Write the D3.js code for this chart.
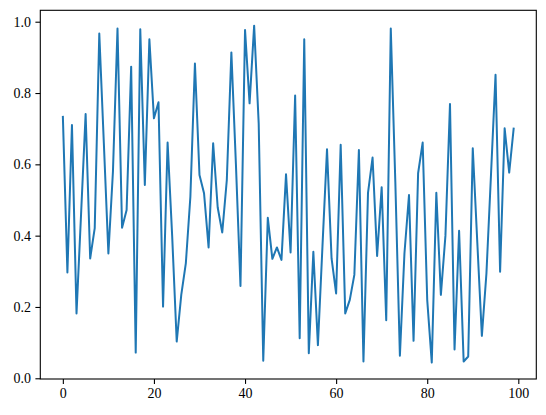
<!DOCTYPE html>
<html>
  <head>
    <meta charset="utf-8">
    <style>
    body { margin: 0; background: #fff; }
    .tick text { font-family: "Liberation Serif", serif; font-size: 14px; fill: #000; }
    .tick line { stroke: #000; stroke-width: 1.1; }
    .domain { display: none; }
    .frame { fill: none; stroke: #000; stroke-width: 1.1; }
    .line { fill: none; stroke: #1f77b4; stroke-width: 2; stroke-linejoin: round; }
    </style>
    <script src="https://cdn.jsdelivr.net/npm/d3@7"></script>
  </head>
  <body>
    <script type="text/javascript">
    // values, one per x = 0..99
    var values = [
      0.736, 0.297, 0.710, 0.182, 0.46, 0.741, 0.336, 0.421, 0.967, 0.66,
      0.350, 0.58, 0.981, 0.422, 0.472, 0.874, 0.072, 0.979, 0.542, 0.951,
      0.729, 0.774, 0.201, 0.661, 0.40, 0.103, 0.234, 0.322, 0.509, 0.883,
      0.570, 0.519, 0.367, 0.659, 0.479, 0.409, 0.556, 0.914, 0.60, 0.259,
      0.977, 0.771, 0.989, 0.715, 0.049, 0.450, 0.335, 0.367, 0.332, 0.572,
      0.353, 0.793, 0.112, 0.951, 0.070, 0.355, 0.093, 0.37, 0.642, 0.336,
      0.238, 0.655, 0.182, 0.22, 0.290, 0.64, 0.047, 0.520, 0.619, 0.343,
      0.536, 0.163, 0.981, 0.55, 0.063, 0.35, 0.514, 0.105, 0.575, 0.661,
      0.22, 0.044, 0.520, 0.234, 0.40, 0.769, 0.081, 0.414, 0.047, 0.061,
      0.645, 0.38, 0.119, 0.294, 0.57, 0.851, 0.299, 0.701, 0.577, 0.703
    ];
    var xTicks = [0, 20, 40, 60, 80, 100];
    var yTicks = [0.0, 0.2, 0.4, 0.6, 0.8, 1.0];
    var xLimits = [-4.95, 103.95];
    var yLimits = [-0.002, 1.032];

    var margin = {top: 10.3, right: 9.7, bottom: 36, left: 40.3},
        width = 546 - margin.left - margin.right,
        height = 415 - margin.top - margin.bottom;

    var svg = d3.select("body")
                .append("svg")
                .attr("width", 546)
                .attr("height", 415)
                .append("g")
                .attr("transform", "translate(" + margin.left + "," + margin.top + ")");

    var x = d3.scaleLinear().domain(xLimits).range([0, width]);
    var y = d3.scaleLinear().domain(yLimits).range([height, 0]);

    svg.append("g")
       .attr("transform", "translate(0," + height + ")")
       .call(d3.axisBottom(x).tickValues(xTicks).tickSize(4.9).tickPadding(4.5).tickFormat(d3.format("d")));

    svg.append("g")
       .call(d3.axisLeft(y).tickValues(yTicks).tickSize(4.9).tickPadding(4.5).tickFormat(d3.format(".1f")));

    var line = d3.line()
                 .x(function(d, i) { return x(i); })
                 .y(function(d) { return y(d); });

    svg.append("path")
       .datum(values)
       .attr("class", "line")
       .attr("d", line);

    svg.append("rect")
       .attr("class", "frame")
       .attr("width", width)
       .attr("height", height);
    </script>
  </body>
</html>
